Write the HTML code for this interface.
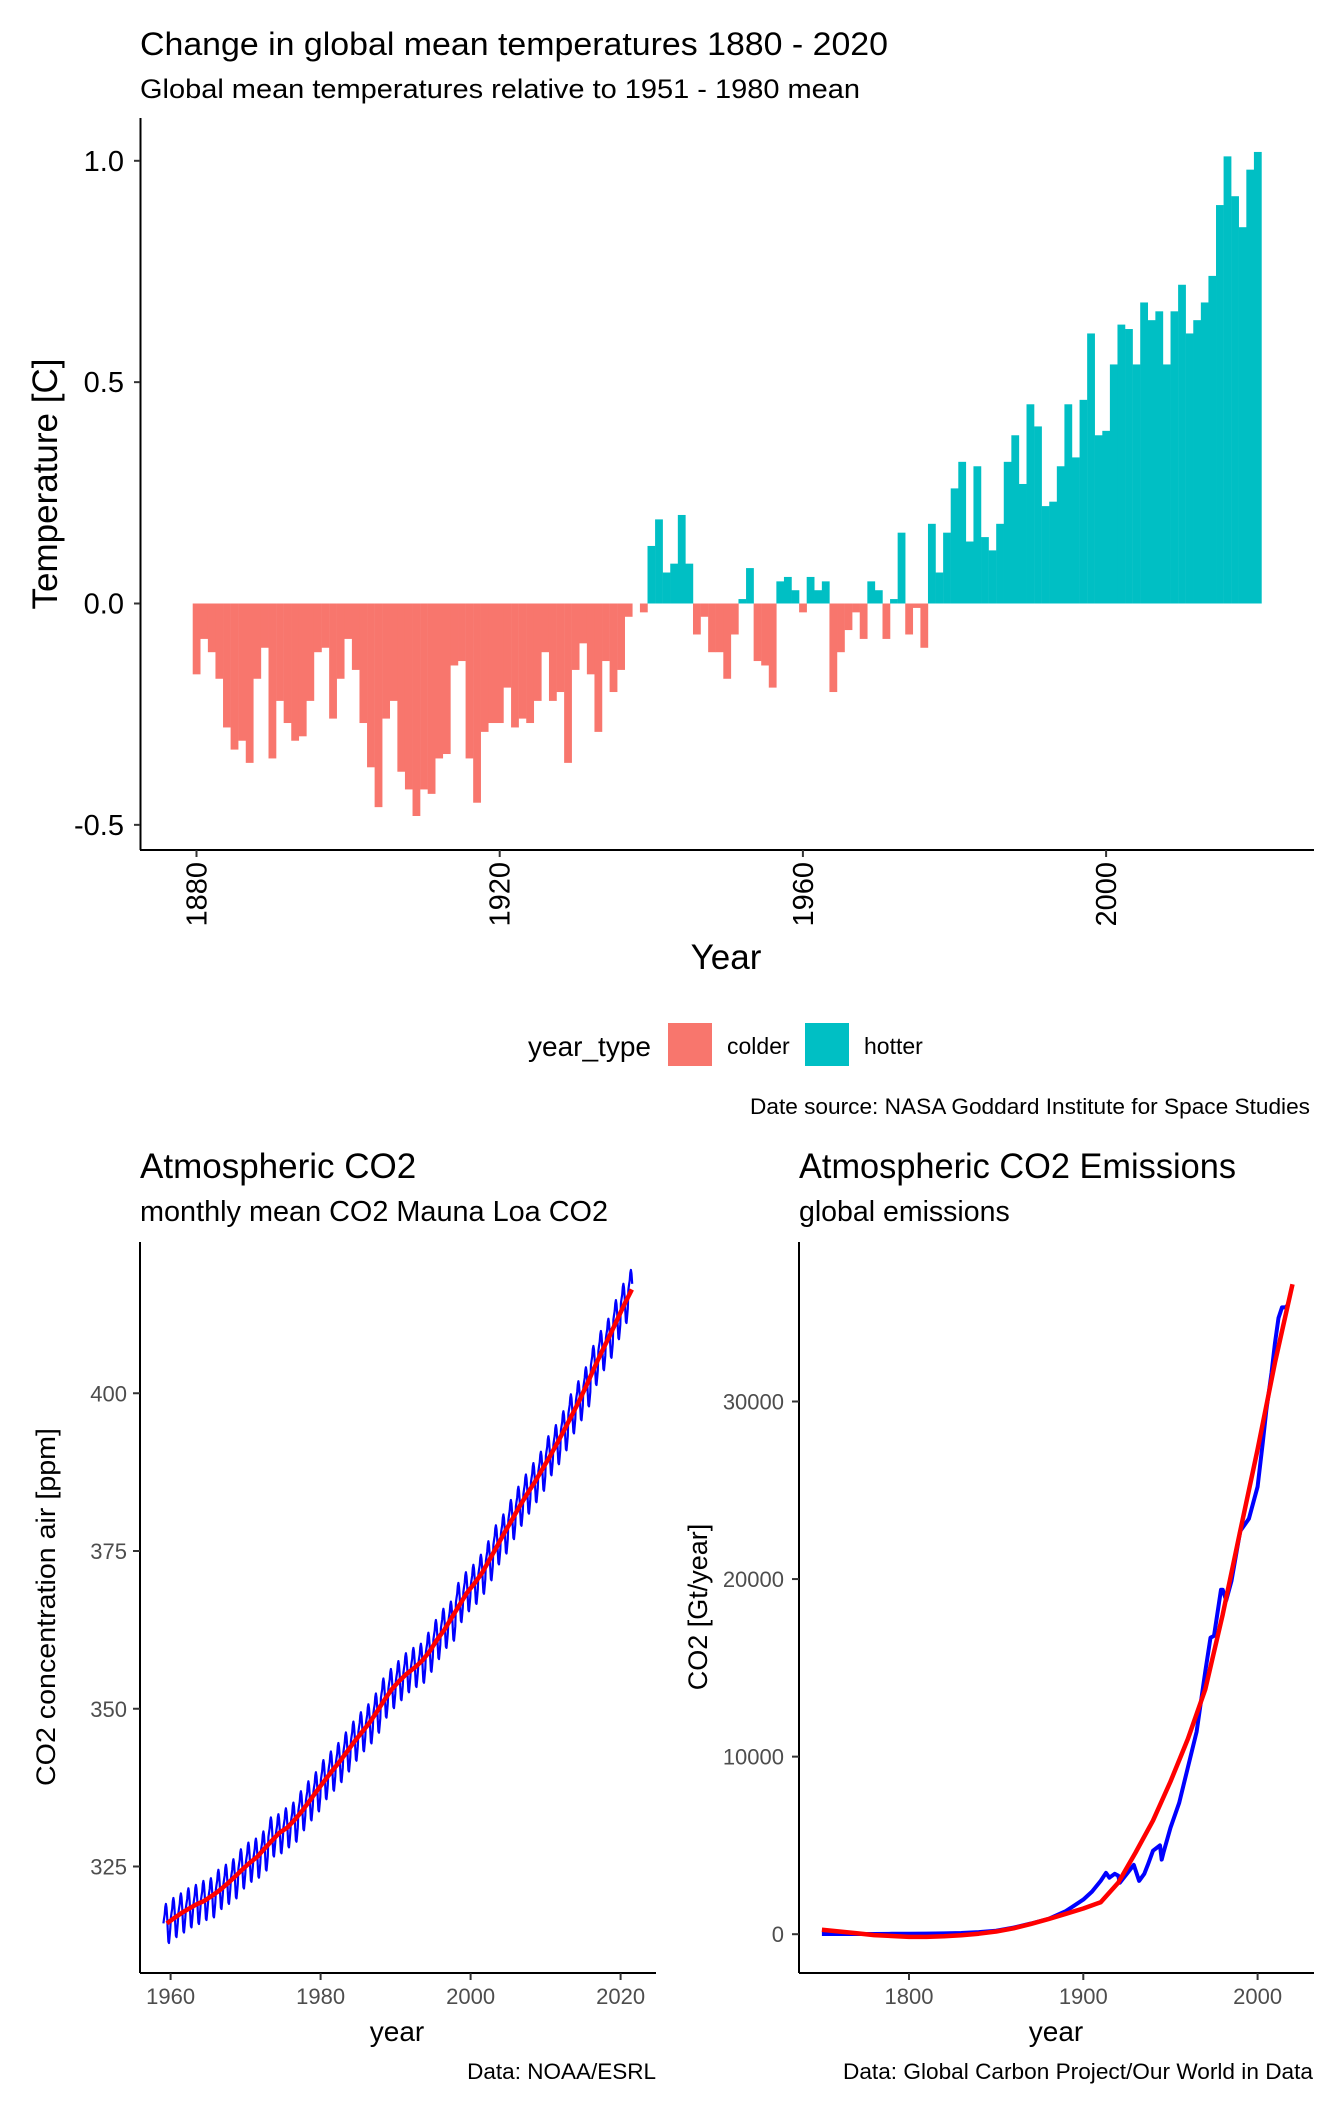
<!DOCTYPE html>
<html><head><meta charset="utf-8"><style>
html,body{margin:0;padding:0;background:#fff;}
svg{display:block;font-family:"Liberation Sans",Arial,sans-serif;}
</style></head><body>
<svg id="root" width="1344" height="2112" viewBox="0 0 1344 2112" xmlns="http://www.w3.org/2000/svg">
<rect width="1344" height="2112" fill="#fff"/>
<g id="top">
  <text x="140" y="55" font-size="32" textLength="748" lengthAdjust="spacingAndGlyphs">Change in global mean temperatures 1880 - 2020</text>
  <text x="140" y="98" font-size="27" textLength="720" lengthAdjust="spacingAndGlyphs">Global mean temperatures relative to 1951 - 1980 mean</text>
  <g id="bars"></g>
  <g id="topaxes"></g>
  <text transform="translate(57,484) rotate(-90)" text-anchor="middle" font-size="35">Temperature [C]</text>
  <text x="726" y="969" text-anchor="middle" font-size="35">Year</text>
  <g>
    <text x="528" y="1056" font-size="28">year_type</text>
    <rect x="668" y="1023" width="44" height="43" fill="#F8766D"/>
    <text x="727" y="1054" font-size="23">colder</text>
    <rect x="805" y="1023" width="44" height="43" fill="#00BFC4"/>
    <text x="864" y="1054" font-size="23">hotter</text>
  </g>
  <text x="1310" y="1114" text-anchor="end" font-size="22.5" textLength="560" lengthAdjust="spacingAndGlyphs">Date source: NASA Goddard Institute for Space Studies</text>
</g>
<g id="co2">
  <text x="140" y="1178" font-size="35">Atmospheric CO2</text>
  <text x="140" y="1221" font-size="28.5" textLength="468" lengthAdjust="spacingAndGlyphs">monthly mean CO2 Mauna Loa CO2</text>
  <g id="co2plot"></g>
  <text transform="translate(55,1607) rotate(-90)" text-anchor="middle" font-size="27" textLength="358" lengthAdjust="spacingAndGlyphs">CO2 concentration air [ppm]</text>
  <text x="397" y="2041" text-anchor="middle" font-size="28">year</text>
  <text x="656" y="2079" text-anchor="end" font-size="22.5">Data: NOAA/ESRL</text>
</g>
<g id="em">
  <text x="799" y="1178" font-size="35" textLength="437" lengthAdjust="spacingAndGlyphs">Atmospheric CO2 Emissions</text>
  <text x="799" y="1221" font-size="28.5">global emissions</text>
  <g id="emplot"></g>
  <text transform="translate(707,1607) rotate(-90)" text-anchor="middle" font-size="27">CO2 [Gt/year]</text>
  <text x="1056" y="2041" text-anchor="middle" font-size="28">year</text>
  <text x="1313" y="2079" text-anchor="end" font-size="22.5" textLength="470" lengthAdjust="spacingAndGlyphs">Data: Global Carbon Project/Our World in Data</text>
</g>
</svg>
<script>
// ---- Temperature data ----
const tempStartYear = 1880;
const tempAnomaly = [
-0.16,-0.08,-0.11,-0.17,-0.28,-0.33,-0.31,-0.36,-0.17,-0.10,
-0.35,-0.22,-0.27,-0.31,-0.30,-0.22,-0.11,-0.10,-0.26,-0.17,
-0.08,-0.15,-0.27,-0.37,-0.46,-0.26,-0.22,-0.38,-0.42,-0.48,
-0.42,-0.43,-0.35,-0.34,-0.14,-0.13,-0.35,-0.45,-0.29,-0.27,
-0.27,-0.19,-0.28,-0.26,-0.27,-0.22,-0.11,-0.22,-0.20,-0.36,
-0.15,-0.09,-0.16,-0.29,-0.13,-0.20,-0.15,-0.03,-0.00,-0.02,
0.13,0.19,0.07,0.09,0.20,0.09,-0.07,-0.03,-0.11,-0.11,
-0.17,-0.07,0.01,0.08,-0.13,-0.14,-0.19,0.05,0.06,0.03,
-0.02,0.06,0.03,0.05,-0.20,-0.11,-0.06,-0.02,-0.08,0.05,
0.03,-0.08,0.01,0.16,-0.07,-0.01,-0.10,0.18,0.07,0.16,
0.26,0.32,0.14,0.31,0.15,0.12,0.18,0.32,0.38,0.27,
0.45,0.40,0.22,0.23,0.31,0.45,0.33,0.46,0.61,0.38,
0.39,0.54,0.63,0.62,0.54,0.68,0.64,0.66,0.54,0.66,
0.72,0.61,0.64,0.68,0.74,0.90,1.01,0.92,0.85,0.98,1.02];
const tempYTicks = [-0.5, 0.0, 0.5, 1.0];
const tempYTickLabels = ["-0.5","0.0","0.5","1.0"];
const tempXTicks = [1880, 1920, 1960, 2000];

// ---- Mauna Loa CO2 data ----
const co2StartYear = 1959;
const co2Annual = [315.98,316.91,317.64,318.45,318.99,319.62,320.04,321.37,322.18,323.05,
324.62,325.68,326.32,327.46,329.68,330.19,331.13,332.03,333.84,335.41,
336.84,338.76,340.12,341.48,343.15,344.87,346.35,347.61,349.31,351.69,
353.20,354.45,355.70,356.54,357.21,358.96,360.97,362.74,363.88,366.84,
368.54,369.71,371.32,373.45,375.98,377.70,379.98,382.09,384.02,385.83,
387.64,390.10,391.85,394.06,396.74,398.81,401.01,404.41,406.76,408.72,
411.66,414.24,416.45];
const co2Seasonal = [0.0,0.7,1.4,2.6,3.1,2.5,0.9,-1.2,-2.9,-3.1,-1.9,-0.8];
const co2YTicks = [325, 350, 375, 400];
const co2XTicks = [1960, 1980, 2000, 2020];

// ---- Emissions data ----
const emYears = [1750,1760,1770,1780,1790,1800,1810,1820,1830,1840,1850,1860,1870,1880,1890,1900,1905,1910,1913,1915,1918,1920,1921,1925,1929,1932,1935,1937,1940,1944,1945,1946,1950,1955,1960,1965,1970,1973,1975,1979,1980,1982,1985,1990,1995,2000,2003,2005,2008,2010,2012,2014,2016,2017];
const emValues = [9,10,11,13,20,28,36,44,70,120,197,370,600,860,1300,1950,2400,3000,3450,3180,3400,3300,2900,3400,3900,3000,3400,3900,4700,5000,4200,4600,6000,7400,9400,11400,14800,16700,16800,19400,19400,18800,19900,22700,23400,25200,27700,29500,31600,33300,34700,35300,35300,35400];
const fitYears = [1750,1760,1770,1780,1790,1800,1810,1820,1830,1840,1850,1860,1870,1880,1890,1900,1910,1920,1930,1940,1950,1960,1970,1980,1990,2000,2010,2020];
const fitValues = [250,150,50,-50,-100,-150,-150,-120,-60,30,150,330,580,850,1150,1450,1800,2900,4600,6400,8600,11000,13800,18000,22700,27300,32200,36600];
const emYTicks = [0, 10000, 20000, 30000];
const emXTicks = [1800, 1900, 2000];

const NS = "http://www.w3.org/2000/svg";
function mk(tag, attrs, parent){const e=document.createElementNS(NS,tag);for(const k in attrs)e.setAttribute(k,attrs[k]);parent.appendChild(e);return e;}

// ---- Top chart ----
const tx = y => 196.5 + (y-1880)*7.58;
const ty = v => 603.5 - v*442.7;
const bars = document.getElementById('bars');
tempAnomaly.forEach((v,i)=>{
  const yr = tempStartYear+i;
  const y0 = Math.min(ty(0),ty(v)), h = Math.abs(ty(v)-ty(0));
  const r = mk('rect',{x:tx(yr)-3.79,y:y0,width:7.8,height:h,fill:v>0?'#00BFC4':'#F8766D'},bars);
  
  
});
const ta = document.getElementById('topaxes');
mk('line',{x1:140.5,y1:118,x2:140.5,y2:850,stroke:'#000','stroke-width':2},ta);
mk('line',{x1:140,y1:850,x2:1314,y2:850,stroke:'#000','stroke-width':2},ta);
tempYTicks.forEach((v,i)=>{
  mk('line',{x1:134,y1:ty(v),x2:140,y2:ty(v),stroke:'#333','stroke-width':2},ta);
  const t=mk('text',{x:124,y:ty(v)+10,'text-anchor':'end','font-size':29,fill:'#000'},ta);
  t.textContent=tempYTickLabels[i];
  
  
});
tempXTicks.forEach(y=>{
  mk('line',{x1:tx(y),y1:850,x2:tx(y),y2:857,stroke:'#333','stroke-width':2},ta);
  const t=mk('text',{transform:`translate(${tx(y)+10},862) rotate(-90)`,'text-anchor':'end','font-size':29,fill:'#000'},ta);
  t.textContent=y;
  
  
});

// ---- CO2 chart ----
const cx = y => 170.6 + (y-1960)*7.5;
const cy = v => 1866.5 - (v-325)*6.31;
const cp = document.getElementById('co2plot');
mk('line',{x1:140,y1:1242,x2:140,y2:1973,stroke:'#000','stroke-width':2},cp);
mk('line',{x1:140,y1:1973,x2:656,y2:1973,stroke:'#000','stroke-width':2},cp);
co2YTicks.forEach(v=>{
  mk('line',{x1:133,y1:cy(v),x2:140,y2:cy(v),stroke:'#333','stroke-width':2},cp);
  const t=mk('text',{x:127,y:cy(v)+8,'text-anchor':'end','font-size':22,fill:'#4d4d4d'},cp);
  t.textContent=v;
  
  
});
co2XTicks.forEach(y=>{
  mk('line',{x1:cx(y),y1:1973,x2:cx(y),y2:1980,stroke:'#333','stroke-width':2},cp);
  const t=mk('text',{x:cx(y),y:2004,'text-anchor':'middle','font-size':22,fill:'#4d4d4d'},cp);
  t.textContent=y;
  
  
});
let pts=[];
co2Annual.forEach((a,i)=>{
  co2Seasonal.forEach((s,m)=>{
    if(i===co2Annual.length-1 && m>6) return;
    const t = co2StartYear+i+(m+0.5)/12;
    pts.push(cx(t).toFixed(1)+','+cy(a+s).toFixed(1));
  });
});
const bl=mk('polyline',{points:pts.join(' '),fill:'none',stroke:'#0000ff','stroke-width':2.2,'stroke-linejoin':'round'},cp);


let sp=[];
const L=co2Annual.length;
co2Annual.forEach((a,i)=>{
  let v=a;
  if(i>0 && i<L-1) v=(co2Annual[i-1]+a+co2Annual[i+1])/3;
  sp.push(cx(co2StartYear+i+0.5).toFixed(1)+','+cy(v).toFixed(1));
});
const rl=mk('polyline',{points:sp.join(' '),fill:'none',stroke:'#ff0000','stroke-width':4.5,'stroke-linejoin':'round'},cp);



// ---- Emissions chart ----
const ex = y => 909 + (y-1800)*1.743;
const ey = v => 1934.2 - v*0.017757;
const ep = document.getElementById('emplot');
mk('line',{x1:799,y1:1242,x2:799,y2:1973,stroke:'#000','stroke-width':2},ep);
mk('line',{x1:799,y1:1973,x2:1314,y2:1973,stroke:'#000','stroke-width':2},ep);
emYTicks.forEach(v=>{
  mk('line',{x1:792,y1:ey(v),x2:799,y2:ey(v),stroke:'#333','stroke-width':2},ep);
  const t=mk('text',{x:784,y:ey(v)+8,'text-anchor':'end','font-size':22,fill:'#4d4d4d'},ep);
  t.textContent=v;
  
  
});
emXTicks.forEach(y=>{
  mk('line',{x1:ex(y),y1:1973,x2:ex(y),y2:1980,stroke:'#333','stroke-width':2},ep);
  const t=mk('text',{x:ex(y),y:2004,'text-anchor':'middle','font-size':22,fill:'#4d4d4d'},ep);
  t.textContent=y;
  
  
});
const eb=mk('polyline',{points:emYears.map((y,i)=>ex(y).toFixed(1)+','+ey(emValues[i]).toFixed(1)).join(' '),fill:'none',stroke:'#0000ff','stroke-width':4,'stroke-linejoin':'round'},ep);


const er=mk('polyline',{points:fitYears.map((y,i)=>ex(y).toFixed(1)+','+ey(fitValues[i]).toFixed(1)).join(' '),fill:'none',stroke:'#ff0000','stroke-width':4.5,'stroke-linejoin':'round'},ep);


</script>
</body></html>
